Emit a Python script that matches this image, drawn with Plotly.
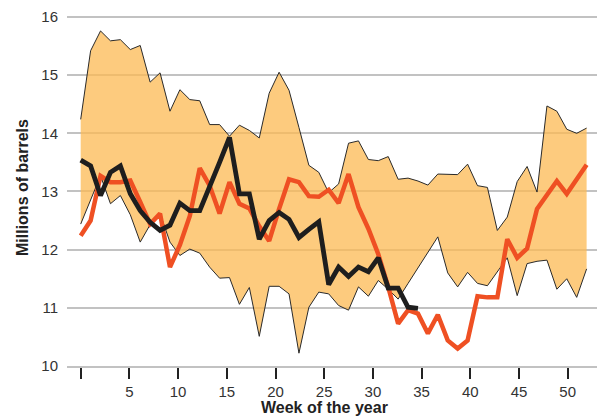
import plotly.graph_objects as go

# ---- data ----
weeks = list(range(1, 53))

range_high = [14.24, 15.42, 15.76, 15.59, 15.61, 15.44, 15.51, 14.88, 15.04, 14.38,
              14.75, 14.58, 14.56, 14.15, 14.15, 13.95, 14.14, 14.05, 13.92, 14.69,
              15.05, 14.74, 14.10, 13.45, 13.33, 12.98, 13.13, 13.83, 13.87, 13.55,
              13.53, 13.60, 13.21, 13.23, 13.18, 13.11, 13.30, 13.30, 13.29, 13.47,
              13.10, 13.07, 12.33, 12.56, 13.17, 13.43, 12.99, 14.47, 14.38, 14.07,
              14.00, 14.09]

range_low = [12.44, 12.84, 13.27, 12.79, 12.93, 12.60, 12.13, 12.43, 12.62, 12.13,
             11.90, 12.01, 11.94, 11.70, 11.51, 11.52, 11.06, 11.35, 10.51, 11.37,
             11.37, 11.24, 10.22, 11.01, 11.27, 11.24, 11.04, 10.96, 11.36, 11.20,
             11.47, 11.32, 11.15, 11.42, 11.69, 11.96, 12.22, 11.60, 11.36, 11.61,
             11.42, 11.38, 11.62, 11.86, 11.21, 11.76, 11.80, 11.82, 11.32, 11.50,
             11.18, 11.67]

orange_series = [12.24, 12.50, 13.27, 13.16, 13.16, 13.19, 12.82, 12.44, 12.62, 11.70,
                 12.08, 12.58, 13.40, 13.10, 12.62, 13.16, 12.79, 12.71, 12.40, 12.15,
                 12.70, 13.21, 13.16, 12.92, 12.91, 13.03, 12.80, 13.30, 12.73, 12.36,
                 11.92, 11.36, 10.73, 10.96, 10.90, 10.56, 10.88, 10.44, 10.30, 10.44,
                 11.20, 11.18, 11.18, 12.18, 11.86, 12.02, 12.70, 12.93, 13.18, 12.96,
                 13.20, 13.46]

black_series = [13.54, 13.44, 12.93, 13.33, 13.44, 12.96, 12.67, 12.47, 12.33, 12.42,
                12.80, 12.67, 12.67, 13.07, 13.50, 13.93, 12.96, 12.96, 12.18, 12.50,
                12.64, 12.52, 12.21, 12.35, 12.48, 11.40, 11.70, 11.54, 11.70, 11.62,
                11.86, 11.34, 11.34, 11.01, 10.99]

x_tick_values = [0, 5, 10, 15, 20, 25, 30, 35, 40, 45, 50]
x_tick_labels = ["", "5", "10", "15", "20", "25", "30", "35", "40", "45", "50"]
y_tick_values = [10, 11, 12, 13, 14, 15, 16]

# ---- styling ----
FONT = "Liberation Sans, Arial, Helvetica, sans-serif"
FILL = "rgba(252,186,83,0.75)"
ORANGE = "#EF5023"
BLACK = "#1E1E1E"
GRID = "#C2C2C2"

# the printed week scale is slightly compressed relative to the data spacing
TICK_SCALE = 9.74 / 9.92
tickvals = [1 + t * TICK_SCALE for t in x_tick_values]

fig = go.Figure()
fig.add_trace(go.Scatter(x=weeks, y=range_low, mode="lines",
                         line=dict(color="#2a2a2a", width=1), hoverinfo="skip"))
fig.add_trace(go.Scatter(x=weeks, y=range_high, mode="lines", fill="tonexty",
                         fillcolor=FILL, line=dict(color="#2a2a2a", width=1),
                         hoverinfo="skip"))
fig.add_trace(go.Scatter(x=weeks, y=orange_series, mode="lines",
                         line=dict(color=ORANGE, width=4.5)))
fig.add_trace(go.Scatter(x=weeks[:len(black_series)], y=black_series, mode="lines",
                         line=dict(color=BLACK, width=4.8)))

fig.update_layout(
    width=597, height=409,
    margin=dict(l=59, r=0, t=0, b=51),
    paper_bgcolor="white", plot_bgcolor="white",
    showlegend=False,
    font=dict(family=FONT, size=15, color="#333"),
    xaxis=dict(range=[-0.381, 53.853], tickvals=tickvals, ticktext=x_tick_labels,
               ticks="outside", ticklen=11, tickwidth=1.6, tickcolor="#222",
               showgrid=False, zeroline=False, showline=True, linecolor=GRID,
               linewidth=1.5, tickfont=dict(size=15, color="#333")),
    yaxis=dict(range=[10, 16.12], tickvals=y_tick_values, showgrid=True,
               gridcolor=GRID, gridwidth=1.5, zeroline=False, ticks="",
               ticklabelstandoff=8, ticklabeloverflow="allow",
               tickfont=dict(size=15, color="#333")),
    annotations=[
        dict(text="<b>Week of the year</b>", xref="paper", yref="paper",
             x=0.478, y=0, yshift=-41, showarrow=False, yanchor="middle",
             font=dict(size=16, color="#222", family=FONT)),
        dict(text="<b>Millions of barrels</b>", xref="paper", yref="paper",
             x=-0.0836, y=0.5, textangle=-90, showarrow=False,
             xanchor="center", yanchor="middle",
             font=dict(size=16, color="#222", family=FONT)),
    ],
)

fig.write_html("out.html")
